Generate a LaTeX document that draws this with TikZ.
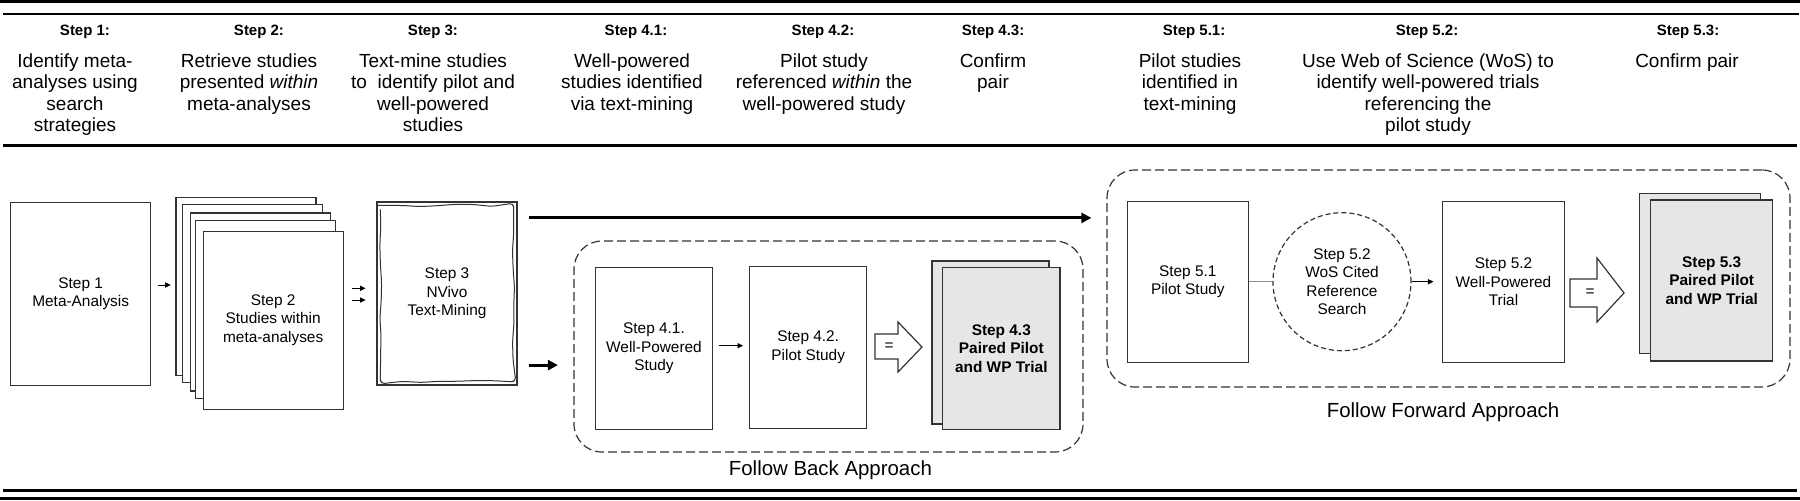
\documentclass[tikz,border=0pt]{standalone}
\usepackage{fontspec}
\setmainfont{Liberation Sans}
\usepackage{tikz}
\usetikzlibrary{arrows.meta, decorations.pathmorphing, positioning}

\definecolor{sheetgray}{HTML}{E6E6E6}
\definecolor{edgegray}{HTML}{333333}
\definecolor{linkgray}{HTML}{8C8C8C}

\begin{document}
\begin{tikzpicture}[x=0.5pt, y=-0.5pt,
  sheet/.style={draw=edgegray, line width=0.6pt, fill=white, inner sep=0pt, align=center,
    font=\fontsize{7.7pt}{9.25pt}\selectfont},
  pairsheet/.style={sheet, fill=sheetgray, font=\bfseries\fontsize{7.7pt}{9.25pt}\selectfont},
  head/.style={font=\bfseries\fontsize{7.5pt}{9pt}\selectfont, anchor=base, inner sep=0pt},
  task/.style={font=\fontsize{9.5pt}{10.8pt}\selectfont, align=center, anchor=north, inner sep=0pt},
  approach/.style={draw=edgegray, line width=0.6pt, dash pattern=on 4.5pt off 2pt, rounded corners=14pt},
  thinarrow/.style={-{Triangle[length=2.8pt,width=2.6pt]}, line width=0.5pt},
  thickarrow/.style={-{Triangle[length=5pt,width=5pt]}, line width=1.5pt},
  fatarrow/.style={draw=edgegray, line width=0.6pt, fill=white}]

\useasboundingbox (0,0) rectangle (1800,500);
\pgfmathsetseed{7}

% Rules
\draw[line width=1.7pt] (0,1.5) -- (1800,1.5);
\draw[line width=1.25pt] (3,14) -- (1799,14);
\draw[line width=1.5pt] (3,145) -- (1797,145);
\draw[line width=1.2pt] (3,490.5) -- (1797,490.5);
\draw[line width=1.7pt] (0,498.3) -- (1800,498.3);

% Header row
\node[head] (h1) at (85,35) {Step 1:};
\node[head] (h2) at (259,35) {Step 2:};
\node[head] (h3) at (433,35) {Step 3:};
\node[head] (h41) at (636,35) {Step 4.1:};
\node[head] (h42) at (823,35) {Step 4.2:};
\node[head] (h43) at (993,35) {Step 4.3:};
\node[head] (h51) at (1194,35) {Step 5.1:};
\node[head] (h52) at (1427,35) {Step 5.2:};
\node[head] (h53) at (1688,35) {Step 5.3:};

\node[task] (t1) at (75,53) {Identify meta-\\analyses using\\search\\strategies};
\node[task] (t2) at (249,53) {Retrieve studies\\presented \textit{within}\\meta-analyses};
\node[task] (t3) at (433,53) {Text-mine studies\\to~ identify pilot and\\well-powered\\studies};
\node[task] (t41) at (632,53) {Well-powered\\studies identified\\via text-mining};
\node[task] (t42) at (824,53) {Pilot study\\referenced \textit{within} the\\well-powered study};
\node[task] (t43) at (993,53) {Confirm\\pair};
\node[task] (t51) at (1190,53) {Pilot studies\\identified in\\text-mining};
\node[task] (t52) at (1428,53) {Use Web of Science (WoS) to\\identify well-powered trials\\referencing the\\pilot study};
\node[task] (t53) at (1687,53) {Confirm pair};

% Steps 1-3
\node[sheet, minimum width=70pt, minimum height=91.5pt] (s1) at (80.7,293.7) {Step 1\\Meta-Analysis};

\node[sheet, minimum width=70pt, minimum height=89pt] (s2b1) at (246,286.5) {};
\node[sheet, minimum width=70pt, minimum height=89pt] (s2b2) at (252.5,293.2) {};
\node[sheet, minimum width=70pt, minimum height=89pt] (s2b3) at (260.4,301.9) {};
\node[sheet, minimum width=70pt, minimum height=89pt] (s2b4) at (265.4,309.7) {};
\node[sheet, minimum width=70pt, minimum height=89pt] (s2) at (273.2,320.2) {Step 2\\Studies within\\meta-analyses};

\node[sheet, minimum width=70pt, minimum height=91.5pt] (s3) at (447,293.5) {Step 3\\NVivo\\Text-Mining};
\draw[decorate, decoration={random steps, segment length=9pt, amplitude=0.6pt}, rounded corners=2pt,
  draw=edgegray, line width=0.5pt] ([shift={(2pt,-2pt)}]s3.north west) rectangle ([shift={(-2pt,2pt)}]s3.south east);

\draw[thinarrow, shorten <=3.15pt, shorten >=2.3pt] ([yshift=4.35pt]s1.east) -- ([yshift=4.35pt]s1.east -| s2b1.west);
\draw[thinarrow, shorten <=4.3pt, shorten >=5.4pt] ([yshift=2.6pt]s3.west -| s2.east) -- ([yshift=2.6pt]s3.west);
\draw[thinarrow, shorten <=4.3pt, shorten >=5.4pt] ([yshift=-3.25pt]s3.west -| s2.east) -- ([yshift=-3.25pt]s3.west);

% Follow back approach
\node[approach, minimum width=254.5pt, minimum height=105.5pt] (back) at (828.5,346.5) {};
\node[font=\fontsize{10.2pt}{12pt}\selectfont, inner sep=0pt] (backlabel) at (830.4,470) {Follow Back Approach};

\node[sheet, minimum width=58.5pt, minimum height=81pt] (s41) at (654,348.3) {Step 4.1.\\Well-Powered\\Study};
\node[sheet, minimum width=58.5pt, minimum height=81pt] (s42) at (808.2,347.2) {Step 4.2.\\Pilot Study};
\node[pairsheet, minimum width=58.5pt, minimum height=81.5pt] (s43b) at (990.4,342.4) {};
\node[pairsheet, minimum width=58.75pt, minimum height=81pt] (s43) at (1001.3,348.3) {Step 4.3\\Paired Pilot\\and WP Trial};

\draw[thinarrow, shorten <=2.7pt, shorten >=3pt] ([yshift=1.3pt]s41.east) -- ([yshift=1.3pt]s41.east -| s42.west);

\draw[fatarrow] (875,334) -- (898,334) -- (898,322) -- (922,347) -- (898,372) -- (898,359) -- (875,359) -- cycle;
\node[sheet, draw=none, fill=none] (eq1) at (889,346.5) {=};

% Follow forward approach
\node[approach, minimum width=341.5pt, minimum height=108.5pt] (fwd) at (1448.5,278.5) {};
\node[font=\fontsize{10.2pt}{12pt}\selectfont, inner sep=0pt] (fwdlabel) at (1443,412.4) {Follow Forward Approach};

\node[sheet, minimum width=60.5pt, minimum height=80.5pt] (s51) at (1187.8,281.7) {Step 5.1\\Pilot Study};
\node[sheet, circle, dash pattern=on 2.5pt off 1.5pt, minimum size=69pt] (c52) at (1342,281.7) {Step 5.2\\WoS Cited\\Reference\\Search};
\node[sheet, minimum width=61pt, minimum height=80.5pt] (s52) at (1503.5,281.7) {Step 5.2\\Well-Powered\\Trial};
\node[pairsheet, minimum width=60.5pt, minimum height=80pt] (s53b) at (1699.7,273.3) {};
\node[pairsheet, minimum width=61pt, minimum height=80.5pt] (s53) at (1711.7,280.4) {Step 5.3\\Paired Pilot\\and WP Trial};

\draw[linkgray, line width=0.6pt] (s51.east) -- (c52.west);
\draw[thinarrow, shorten >=4.2pt] (c52.east) -- (s52.west);

\draw[fatarrow] (1570,279) -- (1597,279) -- (1597,258) -- (1624,293) -- (1597,322) -- (1597,307) -- (1570,307) -- cycle;
\node[sheet, draw=none, fill=none] (eq2) at (1590,293) {=};

% Links into the two approaches
\coordinate (topstart) at ([yshift=-8.25pt]s3.north east);
\coordinate (lowstart) at ([yshift=10.25pt]s3.south east);
\draw[thickarrow, shorten <=5.5pt, shorten >=7.5pt] (topstart) -- (topstart -| fwd.west);
\draw[thickarrow, shorten <=5.5pt, shorten >=7.75pt] (lowstart) -- (lowstart -| back.west);

\end{tikzpicture}
\end{document}
